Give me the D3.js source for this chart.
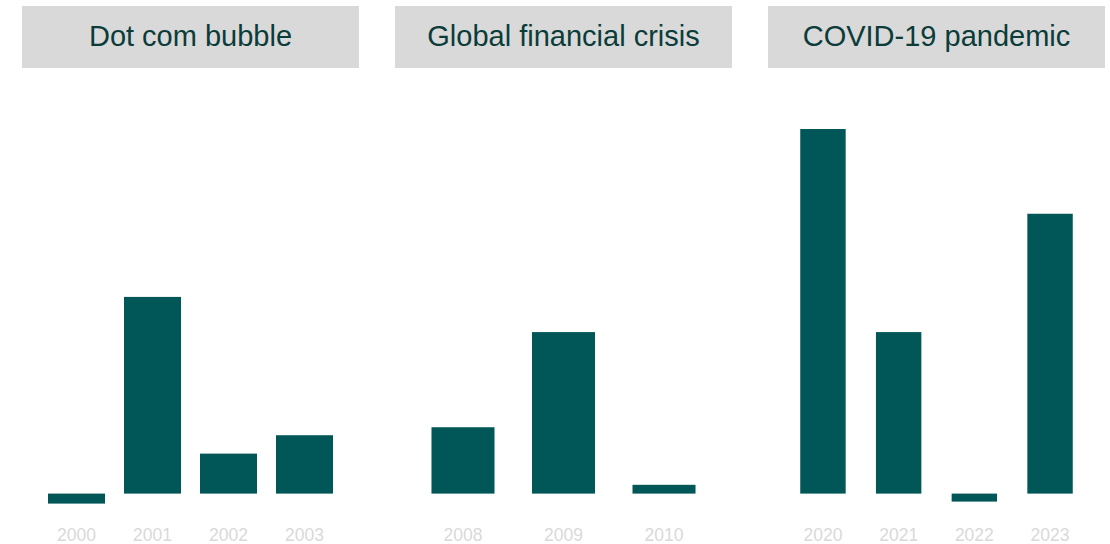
<!DOCTYPE html>
<html><head><meta charset="utf-8">
<script src="https://cdn.jsdelivr.net/npm/d3@7"></script>
<style>html,body{margin:0;padding:0;background:#fff;}svg{display:block;}</style>
</head><body>
<svg id="chart" width="1110" height="544"></svg>
<script>
const panelTitles = ["Dot com bubble", "Global financial crisis", "COVID-19 pandemic"];
const dotcomYears = ["2000", "2001", "2002", "2003"];
const dotcomValues = [-1.25, 24.6, 5.0, 7.3];
const gfcYears = ["2008", "2009", "2010"];
const gfcValues = [8.3, 20.2, 1.1];
const covidYears = ["2020", "2021", "2022", "2023"];
const covidValues = [45.6, 20.2, -1.0, 35.0];

const panels = [
  {title: panelTitles[0], years: dotcomYears, values: dotcomValues, x0: 22, pi: 0.25, po: 0.342},
  {title: panelTitles[1], years: gfcYears, values: gfcValues, x0: 395, pi: 0.373, po: 0.363},
  {title: panelTitles[2], years: covidYears, values: covidValues, x0: 768, pi: 0.4, po: 0.426}
];
const panelW = 337;
const svg = d3.select("#chart");
const y = d3.scaleLinear().domain([0, 45.6]).range([493.6, 129]);

panels.forEach(p => {
  const g = svg.append("g");
  g.append("rect").attr("x", p.x0).attr("y", 6).attr("width", panelW).attr("height", 62).attr("fill", "#d9d9d9");
  g.append("text").attr("x", p.x0 + panelW / 2).attr("y", 46)
    .attr("text-anchor", "middle").attr("font-family", "Liberation Sans, Arial, sans-serif")
    .attr("font-size", 29).attr("fill", "#0b3c39").text(p.title);
  const x = d3.scaleBand().domain(p.years).range([p.x0, p.x0 + panelW]).paddingInner(p.pi).paddingOuter(p.po);
  g.selectAll("rect.bar").data(p.years.map((d, i) => ({year: d, v: p.values[i]})))
    .enter().append("rect").attr("class", "bar")
    .attr("x", d => x(d.year)).attr("width", x.bandwidth())
    .attr("y", d => Math.min(y(d.v), y(0))).attr("height", d => Math.abs(y(d.v) - y(0)))
    .attr("fill", "#015657");
  const axis = d3.axisBottom(x).tickSize(0).tickPadding(0);
  const ag = g.append("g").attr("transform", "translate(0,528)").call(axis);
  ag.select(".domain").remove();
  ag.selectAll("text").attr("font-family", "Liberation Sans, Arial, sans-serif")
    .attr("font-size", 17.5).attr("fill", "#d9d9d9").attr("dy", "0.74em");
});
</script>
</body></html>
